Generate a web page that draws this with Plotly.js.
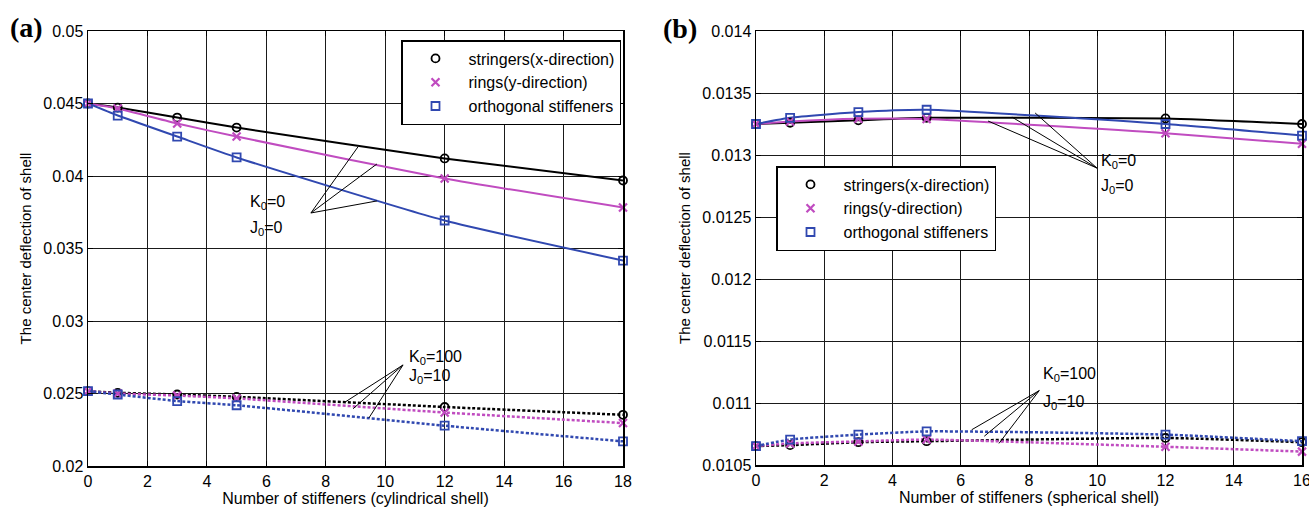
<!DOCTYPE html>
<html><head><meta charset="utf-8">
<script src="https://cdn.plot.ly/plotly-3.0.1.min.js"></script>
<style>html,body{margin:0;padding:0;background:#fff}#chart{width:1309px;height:512px}</style>
</head><body><div id="chart"></div>
<script>
// ---- data ----
const xA = [0, 1, 3, 5, 12, 18];           // cylindrical shell: number of stiffeners
const aStr0   = [0.04500, 0.04472, 0.04403, 0.04334, 0.04121, 0.03969];
const aRing0  = [0.04500, 0.04466, 0.04362, 0.04272, 0.03983, 0.03783];
const aOrth0  = [0.04500, 0.04417, 0.04272, 0.04128, 0.03693, 0.03417];
const aStr100  = [0.02516, 0.02505, 0.02493, 0.02477, 0.02407, 0.02353];
const aRing100 = [0.02516, 0.02500, 0.02486, 0.02466, 0.02369, 0.02296];
const aOrth100 = [0.02516, 0.02493, 0.02448, 0.02419, 0.02278, 0.02170];

const xB = [0, 1, 3, 5, 12, 16];           // spherical shell: number of stiffeners
const bStr0   = [0.013250, 0.013260, 0.013280, 0.013300, 0.013295, 0.013250];
const bRing0  = [0.013250, 0.013270, 0.013292, 0.013290, 0.013176, 0.013090];
const bOrth0  = [0.013250, 0.013300, 0.013346, 0.013365, 0.013250, 0.013157];
const bStr100  = [0.010653, 0.010660, 0.010684, 0.010692, 0.010718, 0.010684];
const bRing100 = [0.010653, 0.010674, 0.010690, 0.010705, 0.010647, 0.010608];
const bOrth100 = [0.010653, 0.010705, 0.010745, 0.010771, 0.010745, 0.010692];

const seriesNames = ['stringers(x-direction)', 'rings(y-direction)', 'orthogonal stiffeners'];
const xTicksA = [0, 2, 4, 6, 8, 10, 12, 14, 16, 18];
const xTicksB = [0, 2, 4, 6, 8, 10, 12, 14, 16];
const xTickTextB = ['0', '2', '4', '6', '8', '10', '12', '14', ''];   // last label drawn separately (clipped at page edge)
const xLastLabelB = '16';
const yTicksA = [0.02, 0.025, 0.03, 0.035, 0.04, 0.045, 0.05];
const yTickTextA = ['0.02', '0.025', '0.03', '0.035', '0.04', '0.045', '0.05'];
const yTicksB = [0.0105, 0.011, 0.0115, 0.012, 0.0125, 0.013, 0.0135, 0.014];
const yTickTextB = ['0.0105', '0.011', '0.0115', '0.012', '0.0125', '0.013', '0.0135', '0.014'];

// ---- styles ----
const colors = ['#000000', '#c04cc0', '#3048b0'];
const symbols = ['circle-open', 'x-thin-open', 'square-open'];
const FONT = 'Liberation Sans, Arial, sans-serif';

const traces = [];
function addGroup(x, ys, xa, ya, dashed, legendName, showLegend) {
  ys.forEach((y, i) => {
    traces.push({
      x: x, y: y, xaxis: xa, yaxis: ya, type: 'scatter', mode: 'lines',
      line: {color: colors[i], width: dashed ? 2.5 : 2, shape: 'spline', smoothing: 0.5,
             dash: dashed ? '3px,2px' : 'solid'},
      showlegend: false, hoverinfo: 'skip', cliponaxis: false
    });
  });
  ys.forEach((y, i) => {
    traces.push({
      x: x, y: y, xaxis: xa, yaxis: ya, type: 'scatter', mode: 'markers',
      name: seriesNames[i], legend: legendName, showlegend: showLegend, cliponaxis: false,
      marker: {symbol: symbols[i], color: colors[i], size: 8,
               line: {color: colors[i], width: i === 1 ? 2.2 : 1.8}}
    });
  });
}
addGroup(xA, [aStr0, aRing0, aOrth0], 'x', 'y', false, 'legend', true);
addGroup(xA, [aStr100, aRing100, aOrth100], 'x', 'y', true, 'legend', false);
addGroup(xB, [bStr0, bRing0, bOrth0], 'x2', 'y2', false, 'legend2', true);
addGroup(xB, [bStr100, bRing100, bOrth100], 'x2', 'y2', true, 'legend2', false);

const axBase = {
  showline: true, mirror: 'ticks', linecolor: '#000', linewidth: 1.5,
  showgrid: true, gridcolor: '#1a1a1a', gridwidth: 1,
  ticks: 'inside', ticklen: 5, tickcolor: '#000', tickwidth: 1,
  zeroline: false, tickfont: {family: FONT, size: 16, color: '#000'}
};
function ax(extra) { return Object.assign({}, axBase, extra); }

function seg(xr, yr, x0, y0, x1, y1) {
  return {type: 'line', xref: xr, yref: yr, x0: x0, y0: y0, x1: x1, y1: y1,
          line: {color: '#000', width: 1}, layer: 'above'};
}
const shapes = [
  // (a) K0=0
  seg('x', 'y', 7.50, 0.03745, 9.08, 0.04200),
  seg('x', 'y', 7.50, 0.03745, 9.72, 0.04083),
  seg('x', 'y', 7.50, 0.03745, 9.72, 0.03828),
  // (a) K0=100
  seg('x', 'y', 10.6, 0.02697, 8.65, 0.02441),
  seg('x', 'y', 10.6, 0.02697, 8.92, 0.02395),
  seg('x', 'y', 10.6, 0.02697, 9.45, 0.02331),
  // (b) K0=0
  seg('x2', 'y2', 9.99, 0.012895, 6.80, 0.013274),
  seg('x2', 'y2', 9.99, 0.012895, 7.50, 0.013306),
  seg('x2', 'y2', 9.99, 0.012895, 8.18, 0.013339),
  // (b) K0=100
  seg('x2', 'y2', 8.30, 0.011100, 6.32, 0.010784),
  seg('x2', 'y2', 8.30, 0.011100, 6.69, 0.010732),
  seg('x2', 'y2', 8.30, 0.011100, 7.12, 0.010674)
];

function txt(xr, yr, x, y, t) {
  return {xref: xr, yref: yr, x: x, y: y, text: t, showarrow: false, xanchor: 'left', yanchor: 'middle',
          font: {family: FONT, size: 16, color: '#000'}};
}
const annotations = [
  txt('x', 'y', 5.38, 0.03814, 'K<sub>0</sub>=0'),
  txt('x', 'y', 5.38, 0.03641, 'J<sub>0</sub>=0'),
  txt('x', 'y', 10.72, 0.02745, 'K<sub>0</sub>=100'),
  txt('x', 'y', 10.72, 0.02614, 'J<sub>0</sub>=10'),
  txt('x2', 'y2', 10.06, 0.012944, 'K<sub>0</sub>=0'),
  txt('x2', 'y2', 10.06, 0.012742, 'J<sub>0</sub>=0'),
  txt('x2', 'y2', 8.36, 0.011226, 'K<sub>0</sub>=100'),
  txt('x2', 'y2', 8.36, 0.011008, 'J<sub>0</sub>=10'),
  {xref: 'x2', yref: 'paper', x: xTicksB[xTicksB.length - 1], y: 1 - 480 / 512, text: xLastLabelB, showarrow: false,
   xanchor: 'center', yanchor: 'middle', font: {family: FONT, size: 16, color: '#000'}},
  {xref: 'paper', yref: 'paper', x: 8 / 1309, y: 1 - 27 / 512, text: '<b>(a)</b>', showarrow: false,
   xanchor: 'left', yanchor: 'middle', font: {family: 'Liberation Serif, Times New Roman, serif', size: 28, color: '#000'}},
  {xref: 'paper', yref: 'paper', x: 661 / 1309, y: 1 - 28 / 512, text: '<b>(b)</b>', showarrow: false,
   xanchor: 'left', yanchor: 'middle', font: {family: 'Liberation Serif, Times New Roman, serif', size: 28, color: '#000'}}
];

const legendBase = {
  bgcolor: '#fff', bordercolor: '#000', borderwidth: 1.5,
  font: {family: FONT, size: 16, color: '#000'},
  xanchor: 'left', yanchor: 'top', itemwidth: 56, tracegroupgap: 0
};

const layout = {
  width: 1309, height: 512,
  margin: {l: 0, r: 0, t: 0, b: 0},
  paper_bgcolor: '#fff', plot_bgcolor: '#fff',
  font: {family: FONT, size: 16, color: '#000'},
  xaxis: ax({domain: [88 / 1309, 623 / 1309], range: [0, 18.0001], tickvals: xTicksA,
             anchor: 'y', title: {text: 'Number of stiffeners (cylindrical shell)', font: {family: FONT, size: 16}, standoff: 2}}),
  yaxis: ax({domain: [1 - 466 / 512, 1 - 31 / 512], range: [0.02, 0.05], tickvals: yTicksA, ticktext: yTickTextA,
             anchor: 'x', title: {text: 'The center deflection of shell', font: {family: FONT, size: 15}, standoff: 8}}),
  xaxis2: ax({domain: [756 / 1309, 1302 / 1309], range: [0, 16.0001], tickvals: xTicksB, ticktext: xTickTextB,
              anchor: 'y2', title: {text: 'Number of stiffeners (spherical shell)', font: {family: FONT, size: 16}, standoff: 2}}),
  yaxis2: ax({domain: [1 - 465 / 512, 1 - 31 / 512], range: [0.0105, 0.014], tickvals: yTicksB, ticktext: yTickTextB,
              anchor: 'x2', title: {text: 'The center deflection of shell', font: {family: FONT, size: 15}, standoff: 8}}),
  legend: Object.assign({}, legendBase, {x: 401 / 1309, y: 1 - 40 / 512}),
  legend2: Object.assign({}, legendBase, {x: 776 / 1309, y: 1 - 166 / 512}),
  shapes: shapes,
  annotations: annotations,
  showlegend: true
};

Plotly.newPlot('chart', traces, layout, {displayModeBar: false, staticPlot: true});
</script></body></html>
